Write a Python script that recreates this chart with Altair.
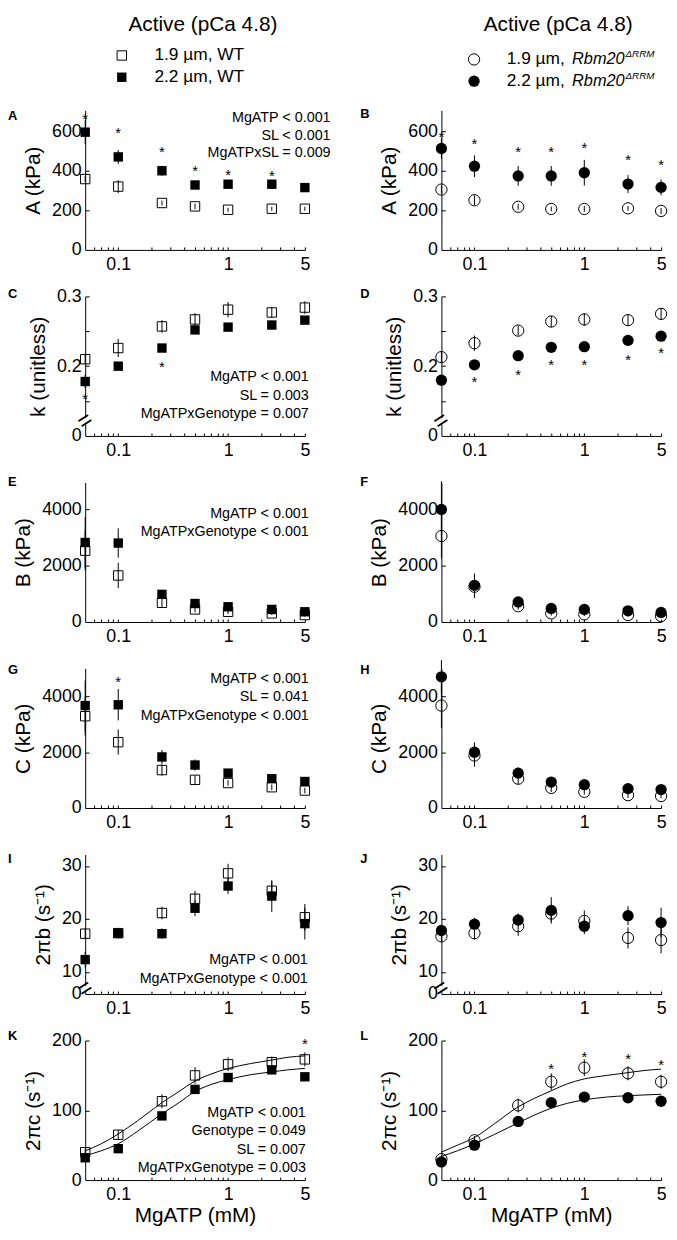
import altair as alt
import pandas as pd

FONT = "Liberation Sans"

MGATP = [0.05, 0.1, 0.25, 0.5, 1, 2.5, 5]
X_TICKS = [0.06, 0.07, 0.08, 0.09, 0.1, 0.2, 0.3, 0.4, 0.5, 0.6, 0.7, 0.8, 0.9, 1, 2, 3, 4, 5]
X_LABEL_EXPR = "datum.value == 0.1 ? '0.1' : (datum.value == 1 ? '1' : (datum.value == 5 ? '5' : ''))"

# ---- Panel A: A (kPa), WT
A_open = [358, 320, 237, 220, 203, 208, 208]
A_open_err = [15, 33, 12, 14, 10, 10, 10]
A_filled = [595, 470, 400, 328, 332, 332, 315]
A_filled_err = [60, 35, 25, 20, 20, 20, 15]
A_star_x = [0.05, 0.1, 0.25, 0.5, 1, 2.5]
A_star_y = [683, 608, 513, 418, 400, 393]
A_annot = ["MgATP < 0.001", "SL < 0.001", "MgATPxSL = 0.009"]

# ---- Panel B: A (kPa), Rbm20
B_open = [305, 251, 218, 207, 207, 210, 197]
B_open_err = [20, 25, 15, 12, 15, 12, 15]
B_filled = [513, 423, 374, 374, 390, 333, 316]
B_filled_err = [50, 55, 50, 50, 65, 45, 40]
B_star_x = [0.05, 0.1, 0.25, 0.5, 1, 2.5, 5]
B_star_y = [590, 556, 513, 513, 533, 472, 448]

# ---- Panel C: k, WT
C_open = [0.210, 0.226, 0.257, 0.267, 0.281, 0.277, 0.284]
C_open_err = [0.008, 0.013, 0.009, 0.009, 0.011, 0.008, 0.009]
C_filled = [0.178, 0.200, 0.226, 0.252, 0.256, 0.259, 0.266]
C_filled_err = [0.010, 0.005, 0.005, 0.005, 0.005, 0.006, 0.005]
C_star_x = [0.05, 0.25]
C_star_y = [0.159, 0.204]
C_annot = ["MgATP < 0.001", "SL = 0.003", "MgATPxGenotype = 0.007"]

# ---- Panel D: k, Rbm20
D_open = [0.213, 0.233, 0.251, 0.264, 0.267, 0.266, 0.275]
D_open_err = [0.008, 0.011, 0.007, 0.008, 0.009, 0.008, 0.008]
D_filled = [0.180, 0.202, 0.215, 0.227, 0.228, 0.237, 0.243]
D_filled_err = [0.008, 0.005, 0.005, 0.005, 0.005, 0.005, 0.005]
D_star_x = [0.1, 0.25, 0.5, 1, 2.5, 5]
D_star_y = [0.183, 0.193, 0.207, 0.207, 0.215, 0.225]

# ---- Panel E: B (kPa), WT
E_open = [2530, 1650, 680, 445, 362, 305, 246]
E_open_err = [700, 450, 150, 100, 80, 60, 50]
E_filled = [2820, 2800, 980, 655, 540, 445, 362]
E_filled_err = [900, 520, 150, 100, 90, 80, 60]
E_annot = ["MgATP < 0.001", "MgATPxGenotype < 0.001"]

# ---- Panel F: B (kPa), Rbm20
F_open = [3050, 1250, 560, 305, 270, 246, 210]
F_open_err = [800, 400, 120, 80, 60, 50, 40]
F_filled = [3990, 1300, 712, 480, 445, 397, 340]
F_filled_err = [1000, 420, 120, 90, 80, 60, 50]

# ---- Panel G: C (kPa), WT
G_open = [3290, 2360, 1360, 1010, 895, 745, 625]
G_open_err = [700, 450, 200, 150, 100, 100, 100]
G_filled = [3670, 3700, 1830, 1540, 1250, 1050, 950]
G_filled_err = [900, 560, 250, 200, 120, 100, 100]
G_star_x = [0.1]
G_star_y = [4640]
G_annot = ["MgATP < 0.001", "SL = 0.041", "MgATPxGenotype < 0.001"]

# ---- Panel H: C (kPa), Rbm20
H_open = [3670, 1880, 1050, 720, 580, 460, 430]
H_open_err = [800, 400, 200, 150, 100, 100, 80]
H_filled = [4700, 2000, 1250, 930, 835, 695, 660]
H_filled_err = [600, 350, 200, 150, 120, 100, 80]

# ---- Panel I: 2πb, WT
I_open = [17.2, 17.3, 21.1, 23.8, 28.6, 25.3, 20.3]
I_open_err = [1.0, 0.8, 1.2, 1.5, 1.8, 1.8, 2.5]
I_filled = [12.3, 17.3, 17.2, 22.0, 26.2, 24.3, 19.1]
I_filled_err = [1.5, 1.0, 1.0, 1.5, 1.5, 3.0, 3.0]
I_annot = ["MgATP < 0.001", "MgATPxGenotype < 0.001"]

# ---- Panel J: 2πb, Rbm20
J_open = [16.7, 17.3, 18.6, 21.0, 19.6, 16.4, 16.0]
J_open_err = [1.0, 1.2, 1.8, 1.5, 2.0, 2.0, 2.5]
J_filled = [17.8, 19.0, 19.8, 21.6, 18.6, 20.6, 19.3]
J_filled_err = [1.0, 1.2, 1.2, 2.5, 1.5, 1.8, 2.8]

# ---- Panel K: 2πc, WT
K_open = [40, 65, 113, 150, 166, 169, 173]
K_open_err = [5, 7, 10, 12, 10, 8, 10]
K_filled = [32, 45, 92, 130, 147, 158, 148]
K_filled_err = [4, 4, 5, 5, 5, 6, 5]
K_star_x = [5]
K_star_y = [200]
K_annot = ["MgATP < 0.001", "Genotype = 0.049", "SL = 0.007", "MgATPxGenotype = 0.003"]

# ---- Panel L: 2πc, Rbm20
L_open = [30, 57, 107, 141, 161, 153, 141]
L_open_err = [5, 6, 10, 12, 12, 10, 10]
L_filled = [26, 50, 84, 111, 119, 118, 113]
L_filled_err = [4, 4, 4, 4, 4, 4, 4]
L_star_x = [0.5, 1, 2.5, 5]
L_star_y = [165, 182, 179, 171]

# ---- fitted curves
FIT_X = [0.05, 0.07, 0.1, 0.15, 0.25, 0.35, 0.5, 0.7, 1, 1.6, 2.5, 3.5, 5]
K_open_fit = [42, 52, 66, 85, 111, 126, 142, 152, 160, 167, 172, 176, 178]
K_filled_fit = [35, 42, 52, 70, 95, 110, 127, 137, 144, 151, 155, 158, 160]
L_open_fit = [40, 50, 61, 80, 105, 117, 128, 138, 145, 150, 154, 157, 159]
L_filled_fit = [34, 42, 52, 65, 82, 93, 103, 110, 115, 119, 121, 122, 123]

ONE = pd.DataFrame({"k": [0]})
W, H = 222, 141


def series_df(open_y, open_err, filled_y, filled_err):
    rows = []
    for s, ys, es in (("open", open_y, open_err), ("filled", filled_y, filled_err)):
        for x, y, e in zip(MGATP, ys, es):
            rows.append({"x": x, "y": y, "lo": y - e, "hi": y + e, "s": s})
    return pd.DataFrame(rows)


def text_layer(text, x, y, size=14.5, align="left", baseline="middle",
               italic=False, bold=False, line_height=None):
    kw = dict(font=FONT, fontSize=size, align=align, baseline=baseline, color="black")
    if italic:
        kw["fontStyle"] = "italic"
    if bold:
        kw["fontWeight"] = "bold"
    if line_height:
        kw["lineBreak"] = "\n"
        kw["lineHeight"] = line_height
    return alt.Chart(ONE).mark_text(**kw).encode(
        x=alt.value(x), y=alt.value(y), text=alt.value(text))


def make_panel(p):
    xs = alt.Scale(type="log", domain=[0.05, 5], nice=False)
    ysc = alt.Scale(domain=p["ydom"], nice=False, zero=False)
    # main axes: domain line + labels + title (no ticks)
    xax_kw = dict(values=X_TICKS, labelExpr=X_LABEL_EXPR, orient="bottom", ticks=False,
                  tickSize=0, labelPadding=6)
    xax_kw["title"] = "MgATP (mM)" if p.get("xtitle") else None
    xax = alt.Axis(**xax_kw)
    yax_kw = dict(values=p["yvals"], title=p["ytitle"], orient="left", ticks=False,
                  tickSize=0, labelPadding=4)
    if "ylabel" in p:
        yax_kw["labelExpr"] = p["ylabel"]
    else:
        yax_kw["format"] = "d"
    yax = alt.Axis(**yax_kw)
    # inner axes: ticks pointing into the plot
    xin = alt.Axis(values=X_TICKS, orient="top", offset=-H, labels=False, domain=False,
                   ticks=True, tickSize=3, title=None)
    yin = alt.Axis(values=[v for v in p["yvals"] if v != p["ydom"][0]], orient="right",
                   offset=-W, labels=False, domain=False, ticks=True, tickSize=4, title=None)

    def X(f, ax=None):
        if ax is None:
            return alt.X(f, type="quantitative", scale=xs, axis=None)
        return alt.X(f, type="quantitative", scale=xs, axis=ax)

    def Y(f, ax=None):
        if ax is None:
            return alt.Y(f, type="quantitative", scale=ysc, axis=None)
        return alt.Y(f, type="quantitative", scale=ysc, axis=ax)

    shape = p["shape"]
    size = 90 if shape == "square" else 130
    df = series_df(p["open"], p["open_err"], p["filled"], p["filled_err"])
    layers = [alt.Chart(df).mark_rule(color="black", strokeWidth=1).encode(
        x=X("x", xax), y=Y("lo", yax), y2="hi")]
    if "fit" in p:
        fo, ff = p["fit"]
        fdf = pd.DataFrame({"x": FIT_X * 2, "y": fo + ff,
                            "s": ["open"] * len(FIT_X) + ["filled"] * len(FIT_X)})
        layers.append(alt.Chart(fdf).mark_line(color="black", strokeWidth=1, interpolate="monotone").encode(
            x=X("x"), y=Y("y"), detail="s"))
    layers.append(alt.Chart(df[df.s == "open"]).mark_point(
        shape=shape, filled=False, color="black", size=size, strokeWidth=1, opacity=1).encode(
        x=X("x", xin), y=Y("y", yin)))
    layers.append(alt.Chart(df[df.s == "filled"]).mark_point(
        shape=shape, filled=True, color="black", size=size, opacity=1).encode(
        x=X("x"), y=Y("y")))
    if "stars" in p:
        sdf = pd.DataFrame({"x": p["stars"][0], "y": p["stars"][1]})
        layers.append(alt.Chart(sdf).mark_text(
            text="*", font=FONT, fontSize=15, color="black", baseline="middle", dy=4).encode(
            x=X("x"), y=Y("y")))
    if "brk" in p:
        bdf = pd.DataFrame({"y": [p["brk"]]})
        layers.append(alt.Chart(bdf).mark_square(color="white", size=40, opacity=1).encode(
            x=alt.value(0), y=Y("y")))
        layers.append(alt.Chart(bdf).mark_text(
            text="=", font=FONT, fontSize=24, color="black", angle=327,
            baseline="middle", align="center").encode(x=alt.value(0), y=Y("y")))
    if "annot" in p:
        ax, ay, lh = p["annot_pos"]
        layers.append(text_layer("\n".join(p["annot"]), ax, ay, size=14.5, align="right",
                                 baseline="top", line_height=lh))
    lx = -78 if p["col"] == 0 else -82
    layers.append(text_layer(p["letter"], lx, p["letter_y"], size=13, bold=True))
    if p["letter"] == "A":
        layers.append(text_layer("Active (pCa 4.8)", 119, -86, size=21, align="center"))
        layers.append(alt.Chart(ONE).mark_point(shape="square", filled=False, color="black",
                                                size=90, strokeWidth=1, opacity=1).encode(
            x=alt.value(37), y=alt.value(-55.5)))
        layers.append(alt.Chart(ONE).mark_point(shape="square", filled=True, color="black",
                                                size=90, opacity=1).encode(
            x=alt.value(37), y=alt.value(-33.5)))
        layers.append(text_layer("1.9 µm, WT", 70, -55.5, size=17.5))
        layers.append(text_layer("2.2 µm, WT", 70, -33.5, size=17.5))
    if p["letter"] == "B":
        layers.append(text_layer("Active (pCa 4.8)", 118, -86, size=21, align="center"))
        layers.append(alt.Chart(ONE).mark_point(shape="circle", filled=False, color="black",
                                                size=130, strokeWidth=1, opacity=1).encode(
            x=alt.value(33), y=alt.value(-51.5)))
        layers.append(alt.Chart(ONE).mark_point(shape="circle", filled=True, color="black",
                                                size=130, opacity=1).encode(
            x=alt.value(33), y=alt.value(-29.5)))
        for yy, lab in ((-51.5, "1.9 µm, "), (-29.5, "2.2 µm, ")):
            layers.append(text_layer(lab, 66, yy, size=17.5))
            layers.append(text_layer("Rbm20", 132, yy, size=16.5, italic=True))
            layers.append(text_layer("ΔRRM", 186, yy - 5, size=10, italic=True))
    return alt.layer(*layers).resolve_axis(x="independent", y="independent").properties(width=W, height=H)


K_LABEL = "datum.value < 0.12 ? '0' : ((abs(datum.value - 0.2) < 0.001 || abs(datum.value - 0.3) < 0.001) ? format(datum.value, '.1f') : '')"
TB_LABEL = "datum.value < 7 ? '0' : format(datum.value, 'd')"

PANELS = [
    dict(letter="A", letter_y=5.5, col=0, shape="square", ytitle="A (kPa)", ydom=[0, 705],
         yvals=[0, 200, 400, 600], open=A_open, open_err=A_open_err, filled=A_filled,
         filled_err=A_filled_err, stars=(A_star_x, A_star_y), annot=A_annot, annot_pos=(248, 1, 17.5)),
    dict(letter="B", letter_y=3.5, col=1, shape="circle", ytitle="A (kPa)", ydom=[0, 705],
         yvals=[0, 200, 400, 600], open=B_open, open_err=B_open_err, filled=B_filled,
         filled_err=B_filled_err, stars=(B_star_x, B_star_y)),
    dict(letter="C", letter_y=-2.5, col=0, shape="square", ytitle="k (unitless)", ydom=[0.1, 0.3],
         yvals=[0.1, 0.15, 0.2, 0.25, 0.3], ylabel=K_LABEL, open=C_open, open_err=C_open_err,
         filled=C_filled, filled_err=C_filled_err, stars=(C_star_x, C_star_y), brk=0.121,
         annot=C_annot, annot_pos=(226, 74.3, 19)),
    dict(letter="D", letter_y=-2.5, col=1, shape="circle", ytitle="k (unitless)", ydom=[0.1, 0.3],
         yvals=[0.1, 0.15, 0.2, 0.25, 0.3], ylabel=K_LABEL, open=D_open, open_err=D_open_err,
         filled=D_filled, filled_err=D_filled_err, stars=(D_star_x, D_star_y), brk=0.121),
    dict(letter="E", letter_y=-0.5, col=0, shape="square", ytitle="B (kPa)", ydom=[0, 4950],
         yvals=[0, 2000, 4000], open=E_open, open_err=E_open_err, filled=E_filled,
         filled_err=E_filled_err, annot=E_annot, annot_pos=(226, 25, 18.5)),
    dict(letter="F", letter_y=-0.5, col=1, shape="circle", ytitle="B (kPa)", ydom=[0, 4950],
         yvals=[0, 2000, 4000], open=F_open, open_err=F_open_err, filled=F_filled,
         filled_err=F_filled_err),
    dict(letter="G", letter_y=1.5, col=0, shape="square", ytitle="C (kPa)", ydom=[0, 5000],
         yvals=[0, 2000, 4000], open=G_open, open_err=G_open_err, filled=G_filled,
         filled_err=G_filled_err, stars=(G_star_x, G_star_y), annot=G_annot, annot_pos=(226, 3.6, 18.5)),
    dict(letter="H", letter_y=1.5, col=1, shape="circle", ytitle="C (kPa)", ydom=[0, 5000],
         yvals=[0, 2000, 4000], open=H_open, open_err=H_open_err, filled=H_filled,
         filled_err=H_filled_err),
    dict(letter="I", letter_y=5, col=0, shape="square", ytitle="2πb (s⁻¹)", ydom=[5.8, 32.15],
         yvals=[5.8, 10, 20, 30], ylabel=TB_LABEL, open=I_open, open_err=I_open_err,
         filled=I_filled, filled_err=I_filled_err, brk=6.75, annot=I_annot, annot_pos=(225, 100, 19)),
    dict(letter="J", letter_y=5, col=1, shape="circle", ytitle="2πb (s⁻¹)", ydom=[5.8, 32.15],
         yvals=[5.8, 10, 20, 30], ylabel=TB_LABEL, open=J_open, open_err=J_open_err,
         filled=J_filled, filled_err=J_filled_err, brk=6.75),
    dict(letter="K", letter_y=-4.5, col=0, shape="square", ytitle="2πc (s⁻¹)", ydom=[0, 200],
         yvals=[0, 100, 200], open=K_open, open_err=K_open_err, filled=K_filled,
         filled_err=K_filled_err, stars=(K_star_x, K_star_y), fit=(K_open_fit, K_filled_fit),
         annot=K_annot, annot_pos=(223, 66, 18.7), xtitle=True),
    dict(letter="L", letter_y=-4.5, col=1, shape="circle", ytitle="2πc (s⁻¹)", ydom=[0, 200],
         yvals=[0, 100, 200], open=L_open, open_err=L_open_err, filled=L_filled,
         filled_err=L_filled_err, stars=(L_star_x, L_star_y), fit=(L_open_fit, L_filled_fit),
         xtitle=True),
]

charts = [make_panel(p) for p in PANELS]

chart = alt.concat(
    *charts, columns=2, spacing={"row": 47, "column": 138}, bounds="flush"
).properties(
    padding=0, background="white"
).configure_view(
    stroke=None
).configure_axis(
    domainColor="black", tickColor="black", labelColor="black", titleColor="black",
    labelFont=FONT, titleFont=FONT, labelFontSize=18, titleFontSize=21,
    titleFontWeight="normal", grid=False, labelFlush=False,
    labelOverlap=False, domainWidth=1, tickWidth=1
).configure_axisX(
    titlePadding=1
).configure_axisY(
    titlePadding=8
)

chart.save("out.html", embed_options={"renderer": "svg", "actions": False})
